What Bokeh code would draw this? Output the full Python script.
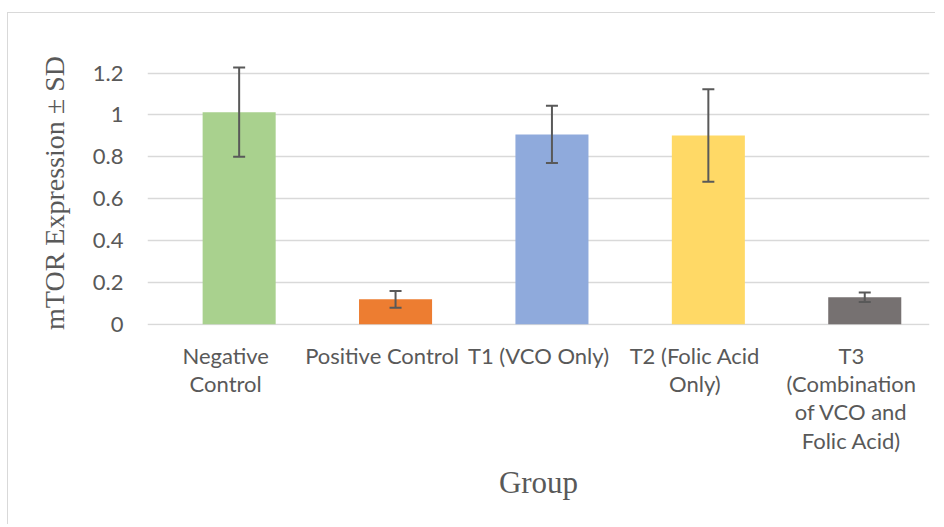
from bokeh.plotting import figure
from bokeh.models import ColumnDataSource, FactorRange, Range1d, FixedTicker, Whisker, TeeHead
from bokeh.transform import dodge
from bokeh.embed import file_html
from bokeh.resources import INLINE

categories = ["Negative\nControl", "Positive Control", "T1 (VCO Only)", "T2 (Folic Acid\nOnly)",
              "T3\n(Combination\nof VCO and\nFolic Acid)"]
means = [1.013, 0.119, 0.907, 0.902, 0.129]
sds = [0.213, 0.040, 0.137, 0.221, 0.023]
colors = ["#A9D18E", "#ED7D31", "#8FAADC", "#FFD966", "#767171"]
y_ticks = [0, 0.2, 0.4, 0.6, 0.8, 1, 1.2]
y_tick_labels = ["0", "0.2", "0.4", "0.6", "0.8", "1", "1.2"]

src = ColumnDataSource(dict(
    cat=categories, mean=means, color=colors,
    upper=[m + s for m, s in zip(means, sds)],
    lower=[m - s for m, s in zip(means, sds)],
))

p = figure(x_range=FactorRange(*categories, range_padding=0), y_range=Range1d(-0.006, 1.26),
           width=928, height=512, output_backend="svg", toolbar_location=None,
           min_border_left=139, min_border_right=7, min_border_top=47, min_border_bottom=200)
p.styles = {"margin-top": "12px", "margin-left": "7px",
            "border-left": "1px solid #d9d9d9", "border-top": "1px solid #d9d9d9"}
p.outline_line_color = None
p.background_fill_color = "white"
p.border_fill_color = "white"

off = 0.086
p.vbar(x=dodge("cat", off, range=p.x_range), top="mean", bottom=0, width=0.467,
       fill_color="color", line_color=None, source=src)

w = Whisker(base=dodge("cat", off, range=p.x_range), upper="upper", lower="lower", source=src,
            line_color="#595959", line_width=2, level="annotation",
            upper_head=TeeHead(size=12, line_color="#595959", line_width=2),
            lower_head=TeeHead(size=12, line_color="#595959", line_width=2))
p.add_layout(w)

p.xgrid.grid_line_color = None
p.ygrid.grid_line_color = "#d9d9d9"
p.ygrid.grid_line_width = 1.5
p.yaxis.ticker = FixedTicker(ticks=y_ticks)
p.yaxis.major_label_overrides = {t: l for t, l in zip(y_ticks, y_tick_labels)}

for ax in (p.xaxis[0], p.yaxis[0]):
    ax.axis_line_color = None
    ax.major_tick_line_color = None
    ax.minor_tick_line_color = None
    ax.major_tick_out = 0
    ax.major_tick_in = 0
    ax.minor_tick_out = 0
    ax.minor_tick_in = 0
    ax.major_label_text_font = "Lato"
    ax.major_label_text_font_size = "22px"
    ax.major_label_text_color = "#595959"
    ax.axis_label_text_font = "Liberation Serif"
    ax.axis_label_text_font_style = "normal"
    ax.axis_label_text_color = "#595959"

p.xaxis.major_label_standoff = 16
p.xaxis.major_label_text_line_height = 1.05
p.yaxis.major_label_standoff = 24
p.xaxis.axis_label = "Group"
p.xaxis.axis_label_text_font_size = "31px"
p.xaxis.axis_label_standoff = 8
p.yaxis.axis_label = "mTOR Expression ± SD"
p.yaxis.axis_label_text_font_size = "28px"
p.yaxis.axis_label_standoff = 20

open("out.html", "w").write(file_html(p, INLINE))
